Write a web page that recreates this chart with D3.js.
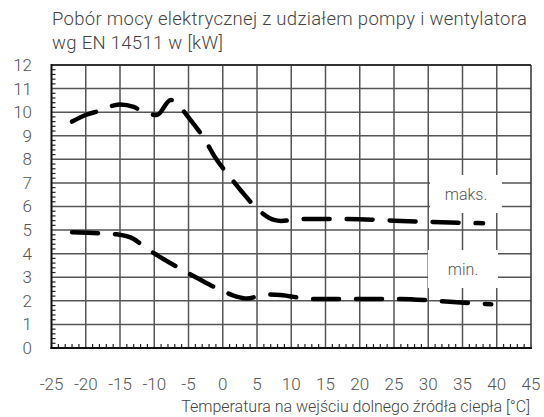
<!DOCTYPE html>
<html><head><meta charset="utf-8">
<script src="https://cdn.jsdelivr.net/npm/d3@7"></script>
<style>body{margin:0;background:#fff} text{font-family:Roboto, sans-serif;font-weight:300}</style>
</head><body><svg id="c" width="544" height="417"></svg>
<script>
const yTicks = d3.range(0, 13);
const xTicks = d3.range(-25, 46, 5);
const tempsMax = [-22, -20, -18, -16, -15, -13, -11.5, -9.6, -7.6, -6.5, -5, -2.5, -1.3, 1.2, 2.7, 5.5, 7.5, 8.5, 11.8, 15, 20, 25, 30, 35, 38];
const valuesMax = [9.6, 9.88, 10.06, 10.28, 10.33, 10.22, 10.0, 9.88, 10.52, 10.3, 9.78, 8.78, 8.17, 7.2, 6.66, 5.78, 5.43, 5.39, 5.47, 5.47, 5.46, 5.40, 5.35, 5.31, 5.29];
const tempsMin = [-22, -17.6, -15.5, -13, -11.5, -9.6, -5.9, -3.8, -0.1, 2, 3.5, 6.4, 8.4, 12.8, 15, 20, 26, 30.6, 32.6, 39.2];
const valuesMin = [4.91, 4.86, 4.82, 4.62, 4.30, 3.94, 3.31, 2.98, 2.43, 2.18, 2.10, 2.27, 2.25, 2.08, 2.08, 2.08, 2.08, 2.01, 1.97, 1.85];
const seriesLabels = ["maks.", "min."];
const titleLines = ["Pobór mocy elektrycznej z udziałem pompy i wentylatora", "wg EN 14511 w [kW]"];
const xTitle = "Temperatura na wejściu dolnego źródła ciepła [°C]";

const svg = d3.select("#c");
const L = 51.5, R = 531, T = 65, B = 348;
const x = d3.scaleLinear().domain([-25, 45]).range([L, R]);
const y = d3.scaleLinear().domain([0, 12]).range([B, T]);

// title
svg.append("g").selectAll("text").data(titleLines).join("text")
  .attr("x", 52).attr("y", (d, i) => 25 + i * 23.5)
  .attr("font-size", 18.5).attr("letter-spacing", 0.3).attr("fill", "#444").text(d => d);

// grid
const grid = svg.append("g").attr("stroke", "#555").attr("stroke-width", 1.5);
grid.selectAll("line.v").data(xTicks.filter(d => d > -25 && d < 45)).join("line")
  .attr("x1", d => x(d)).attr("x2", d => x(d)).attr("y1", T).attr("y2", B);
grid.selectAll("line.h").data(yTicks.filter(d => d > 0 && d < 12)).join("line")
  .attr("x1", L).attr("x2", R).attr("y1", d => y(d)).attr("y2", d => y(d));

// minor ticks
const minorY = d3.range(0, 12.01, 0.2).filter(d => Math.abs(d - Math.round(d)) > 0.01);
svg.append("g").attr("stroke", "#222").attr("stroke-width", 1.2).selectAll("line").data(minorY).join("line")
  .attr("x1", L).attr("x2", L + 4).attr("y1", d => y(d)).attr("y2", d => y(d));
const minorX = d3.range(-25, 45.01, 1).filter(d => d % 5 !== 0);
svg.append("g").attr("stroke", "#222").attr("stroke-width", 1.2).selectAll("line").data(minorX).join("line")
  .attr("x1", d => x(d)).attr("x2", d => x(d)).attr("y1", B).attr("y2", B - 4);

// frame
svg.append("line").attr("x1", L).attr("x2", R).attr("y1", T).attr("y2", T).attr("stroke", "#333").attr("stroke-width", 2.2);
svg.append("line").attr("x1", R).attr("x2", R).attr("y1", T).attr("y2", B).attr("stroke", "#333").attr("stroke-width", 1.5);
svg.append("line").attr("x1", L).attr("x2", L).attr("y1", T - 1).attr("y2", B + 1).attr("stroke", "#111").attr("stroke-width", 2);
svg.append("line").attr("x1", L - 1).attr("x2", R + 1).attr("y1", B).attr("y2", B).attr("stroke", "#111").attr("stroke-width", 2.2);

// label boxes
const boxes = [{x: 430, y: 175, w: 72, h: 38}, {x: 428, y: 250, w: 70, h: 38}];
seriesLabels.forEach((lab, i) => {
  const b = boxes[i];
  svg.append("rect").attr("x", b.x).attr("y", b.y).attr("width", b.w).attr("height", b.h).attr("fill", "#fff");
  svg.append("text").attr("x", b.x + b.w / 2).attr("y", b.y + b.h / 2).attr("dy", "0.35em")
    .attr("text-anchor", "middle").attr("font-size", 16).attr("fill", "#555").text(lab);
});

// lines
const line = d3.line().x(d => x(d[0])).y(d => y(d[1])).curve(d3.curveMonotoneX);
[[tempsMax, valuesMax], [tempsMin, valuesMin]].forEach(([t, v]) => {
  svg.append("path").datum(t.map((d, i) => [d, v[i]])).attr("d", line)
    .attr("fill", "none").attr("stroke", "#000").attr("stroke-width", 4.5)
    .attr("stroke-linecap", "round").attr("stroke-dasharray", "26,17");
});

// y labels
svg.append("g").selectAll("text").data(yTicks).join("text")
  .attr("x", 32).attr("y", d => y(d)).attr("dy", "0.35em").attr("text-anchor", "end")
  .attr("font-size", 17).attr("fill", "#555").text(d => d);
// x labels
svg.append("g").selectAll("text").data(xTicks).join("text")
  .attr("x", d => x(d)).attr("y", 384).attr("dy", "0.35em").attr("text-anchor", "middle")
  .attr("font-size", 17).attr("fill", "#555").text(d => d);
svg.append("text").attr("x", 530).attr("y", 406).attr("dy", "0.35em").attr("text-anchor", "end")
  .attr("font-size", 16).attr("fill", "#444").text(xTitle);
</script></body></html>
